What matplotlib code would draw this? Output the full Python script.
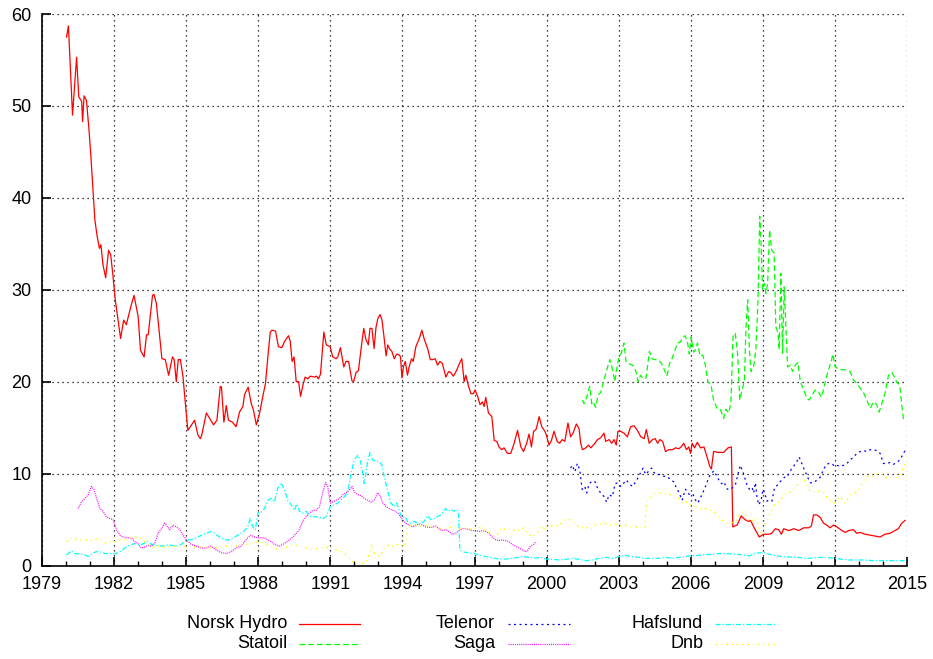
import matplotlib
matplotlib.use("Agg")
import matplotlib.pyplot as plt
from matplotlib.lines import Line2D

plt.rcParams['font.family'] = ['Liberation Sans', 'DejaVu Sans']

# ---------------- data ----------------
nh_year = [1980.02, 1980.10, 1980.27, 1980.44, 1980.53, 1980.65, 1980.69, 1980.75, 1980.85, 1980.95,
           1981.03, 1981.13, 1981.20, 1981.29, 1981.39, 1981.45, 1981.54, 1981.65, 1981.77, 1981.86,
           1981.95, 1982.05, 1982.27, 1982.40, 1982.51, 1982.68, 1982.83, 1983.00, 1983.10, 1983.25,
           1983.35, 1983.42, 1983.60, 1983.66, 1983.76, 1983.87, 1983.99, 1984.13, 1984.27, 1984.43,
           1984.50, 1984.59, 1984.67, 1984.76, 1984.87, 1984.94, 1985.07, 1985.22, 1985.35, 1985.49,
           1985.59, 1985.65, 1985.84, 1985.98, 1986.14, 1986.28, 1986.42, 1986.47, 1986.57, 1986.67,
           1986.76, 1986.92, 1987.08, 1987.22, 1987.36, 1987.43, 1987.58, 1987.71, 1987.80, 1987.92,
           1988.05, 1988.19, 1988.30, 1988.40, 1988.50, 1988.57, 1988.72, 1988.84, 1988.98, 1989.10,
           1989.26, 1989.33, 1989.41, 1989.49, 1989.58, 1989.68, 1989.76, 1989.85, 1989.95, 1990.06,
           1990.16, 1990.34, 1990.43, 1990.50, 1990.59, 1990.73, 1990.83, 1990.99, 1991.10, 1991.24,
           1991.31, 1991.42, 1991.56, 1991.65, 1991.76, 1991.90, 1991.97, 1992.07, 1992.17, 1992.28,
           1992.39, 1992.48, 1992.58, 1992.65, 1992.73, 1992.82, 1992.90, 1992.98, 1993.07, 1993.15,
           1993.25, 1993.32, 1993.39, 1993.48, 1993.56, 1993.66, 1993.76, 1993.87, 1993.92, 1993.98,
           1994.04, 1994.12, 1994.21, 1994.28, 1994.38, 1994.45, 1994.56, 1994.70, 1994.81, 1994.91,
           1995.05, 1995.16, 1995.26, 1995.36, 1995.46, 1995.56, 1995.66, 1995.81, 1995.92, 1996.01,
           1996.12, 1996.25, 1996.36, 1996.47, 1996.57, 1996.64, 1996.74, 1996.85, 1996.96, 1997.02,
           1997.13, 1997.23, 1997.33, 1997.40, 1997.47, 1997.58, 1997.72, 1997.82, 1997.93, 1998.02,
           1998.13, 1998.23, 1998.37, 1998.51, 1998.65, 1998.79, 1998.93, 1999.04, 1999.17, 1999.27,
           1999.37, 1999.46, 1999.56, 1999.63, 1999.69, 1999.80, 1999.93, 1999.99, 2000.10, 2000.20,
           2000.31, 2000.44, 2000.54, 2000.65, 2000.76, 2000.89, 2001.00, 2001.10, 2001.24, 2001.35,
           2001.42, 2001.49, 2001.63, 2001.74, 2001.84, 2001.98, 2002.12, 2002.25, 2002.39, 2002.46,
           2002.60, 2002.71, 2002.81, 2002.90, 2002.97, 2003.08, 2003.22, 2003.36, 2003.50, 2003.64,
           2003.78, 2003.92, 2004.06, 2004.15, 2004.27, 2004.41, 2004.52, 2004.62, 2004.72, 2004.83,
           2004.95, 2005.09, 2005.23, 2005.37, 2005.50, 2005.60, 2005.71, 2005.82, 2005.92, 2005.99,
           2006.06, 2006.16, 2006.27, 2006.41, 2006.55, 2006.68, 2006.79, 2006.86, 2006.95, 2007.16,
           2007.37, 2007.55, 2007.69, 2007.75, 2007.93, 2008.10, 2008.25, 2008.40, 2008.49, 2008.62,
           2008.85, 2009.03, 2009.24, 2009.37, 2009.52, 2009.66, 2009.77, 2009.87, 2010.08, 2010.29,
           2010.49, 2010.70, 2010.91, 2011.02, 2011.11, 2011.25, 2011.39, 2011.53, 2011.66, 2011.80,
           2011.94, 2012.08, 2012.29, 2012.43, 2012.57, 2012.77, 2012.91, 2013.05, 2013.26, 2013.47,
           2013.67, 2013.88, 2014.08, 2014.29, 2014.50, 2014.64, 2014.78, 2014.92]
nh_val = [57.5, 58.7, 49.0, 55.3, 51.0, 50.5, 48.3, 51.1, 50.6, 47.6,
          44.7, 40.5, 37.6, 35.9, 34.5, 34.9, 32.7, 31.3, 34.3, 33.8,
          31.6, 28.9, 24.7, 26.7, 26.2, 28.0, 29.4, 27.1, 23.4, 22.7,
          25.1, 25.1, 29.4, 29.5, 28.5, 25.6, 22.5, 22.4, 20.7, 22.7,
          22.4, 20.0, 22.4, 22.4, 20.5, 18.4, 14.7, 15.3, 15.8, 14.2,
          13.8, 14.2, 16.6, 16.0, 15.3, 15.8, 19.5, 19.4, 15.6, 17.4,
          15.8, 15.6, 15.1, 16.7, 17.3, 18.6, 19.4, 17.6, 16.9, 15.3,
          16.5, 18.4, 19.8, 22.7, 25.4, 25.6, 25.5, 23.8, 23.7, 24.4,
          25.0, 24.4, 22.2, 22.7, 20.0, 20.0, 18.4, 19.5, 20.5, 20.3,
          20.6, 20.5, 20.6, 20.3, 20.8, 25.4, 24.0, 23.8, 22.7, 22.5,
          22.7, 23.7, 21.6, 22.2, 22.2, 20.1, 20.0, 21.0, 21.2, 23.6,
          25.8, 24.6, 24.0, 25.8, 25.8, 23.6, 25.9, 26.9, 27.3, 26.7,
          24.5, 22.8, 24.0, 23.5, 23.3, 22.5, 23.0, 22.9, 22.7, 20.4,
          21.6, 22.2, 20.7, 21.6, 22.5, 22.2, 23.8, 24.7, 25.6, 24.6,
          23.6, 22.4, 22.4, 22.5, 21.8, 22.2, 22.0, 20.5, 21.1, 21.0,
          20.6, 21.2, 21.9, 22.5, 20.0, 20.7, 19.6, 18.7, 18.7, 19.1,
          18.4, 17.5, 17.8, 17.3, 18.3, 16.6, 16.2, 13.6, 13.5, 12.9,
          12.6, 12.8, 12.2, 12.2, 13.3, 14.7, 12.9, 12.4, 13.3, 14.3,
          12.9, 14.6, 14.8, 15.5, 16.2, 15.1, 14.6, 14.2, 13.1, 13.6,
          14.6, 13.5, 13.3, 13.7, 13.5, 15.5, 14.0, 14.4, 15.4, 14.9,
          13.3, 12.6, 12.8, 13.1, 12.8, 13.2, 13.7, 13.9, 14.4, 13.5,
          13.7, 13.3, 13.7, 13.1, 14.6, 14.6, 14.4, 14.0, 15.1, 15.2,
          14.7, 14.0, 13.8, 14.8, 13.3, 13.7, 13.8, 13.3, 13.7, 13.5,
          12.4, 12.6, 12.6, 12.8, 12.7, 12.9, 13.3, 12.6, 12.9, 12.2,
          13.3, 12.8, 13.4, 12.8, 12.9, 11.8, 10.8, 10.5, 12.4, 12.3,
          12.3, 12.8, 12.9, 4.2, 4.4, 5.4, 5.0, 4.8, 4.9, 4.2,
          3.1, 3.4, 3.4, 3.5, 4.0, 3.9, 3.4, 4.0, 3.8, 4.0,
          3.8, 4.1, 4.1, 4.3, 5.5, 5.5, 5.2, 4.6, 4.4, 4.1,
          4.4, 4.2, 3.8, 3.6, 3.8, 3.9, 3.5, 3.6, 3.4, 3.3,
          3.2, 3.1, 3.4, 3.5, 3.8, 4.0, 4.6, 4.9]

st_year = [2001.49, 2001.56, 2001.67, 2001.79, 2001.88, 2001.94, 2002.04, 2002.15, 2002.25, 2002.39,
           2002.53, 2002.63, 2002.73, 2002.84, 2002.90, 2003.00, 2003.12, 2003.22, 2003.31, 2003.49,
           2003.63, 2003.73, 2003.81, 2003.91, 2004.02, 2004.14, 2004.28, 2004.39, 2004.50, 2004.64,
           2004.78, 2004.90, 2005.01, 2005.12, 2005.22, 2005.33, 2005.45, 2005.56, 2005.66, 2005.77,
           2005.87, 2005.94, 2006.02, 2006.12, 2006.18, 2006.28, 2006.39, 2006.50, 2006.60, 2006.71,
           2006.84, 2006.95, 2007.09, 2007.23, 2007.37, 2007.46, 2007.58, 2007.67, 2007.76, 2007.85,
           2007.95, 2008.04, 2008.13, 2008.23, 2008.30, 2008.37, 2008.44, 2008.51, 2008.62, 2008.71,
           2008.80, 2008.87, 2008.92, 2008.99, 2009.06, 2009.13, 2009.20, 2009.28, 2009.37, 2009.47,
           2009.54, 2009.63, 2009.68, 2009.75, 2009.82, 2009.89, 2009.96, 2010.03, 2010.14, 2010.24,
           2010.35, 2010.46, 2010.56, 2010.70, 2010.83, 2010.93, 2011.04, 2011.18, 2011.32, 2011.43,
           2011.52, 2011.62, 2011.73, 2011.84, 2011.91, 2012.01, 2012.15, 2012.29, 2012.43, 2012.63,
           2012.77, 2012.91, 2013.05, 2013.19, 2013.33, 2013.47, 2013.60, 2013.74, 2013.84, 2013.95,
           2014.09, 2014.23, 2014.37, 2014.48, 2014.58, 2014.69, 2014.79, 2014.85, 2014.92]
st_val = [18.0, 17.6, 18.3, 19.5, 17.6, 17.8, 17.2, 18.6, 18.8, 20.2,
          21.5, 22.4, 21.5, 20.0, 21.1, 22.5, 23.2, 24.2, 22.1, 21.9,
          21.7, 21.0, 20.0, 20.7, 20.3, 20.4, 23.3, 22.5, 22.4, 22.4,
          22.0, 21.3, 20.6, 22.0, 22.5, 23.3, 24.2, 24.3, 24.8, 25.0,
          24.2, 23.0, 24.9, 23.2, 23.4, 24.2, 22.8, 22.9, 21.9, 20.0,
          19.7, 18.0, 17.1, 17.0, 16.0, 17.0, 16.6, 17.7, 24.9, 25.3,
          23.1, 18.0, 19.1, 20.0, 26.0, 28.9, 23.5, 21.1, 21.7, 23.5,
          28.9, 38.0, 35.5, 30.0, 30.7, 29.6, 30.7, 36.5, 34.3, 34.0,
          26.0, 25.3, 23.5, 31.8, 23.1, 30.3, 26.0, 21.6, 21.8, 21.1,
          21.8, 22.1, 20.0, 19.1, 18.2, 18.0, 18.5, 19.1, 18.9, 18.3,
          19.1, 20.2, 21.3, 22.1, 23.0, 21.6, 21.4, 21.3, 21.3, 21.1,
          20.2, 19.8, 19.3, 18.8, 18.0, 17.1, 17.8, 17.5, 16.7, 17.6,
          18.8, 20.7, 21.0, 20.5, 19.9, 19.7, 17.3, 16.0, 15.8]

tel_year = [2001.00, 2001.07, 2001.18, 2001.28, 2001.38, 2001.44, 2001.49, 2001.60, 2001.67, 2001.77,
            2001.91, 2002.02, 2002.12, 2002.25, 2002.39, 2002.50, 2002.60, 2002.74, 2002.85, 2002.97,
            2003.08, 2003.19, 2003.32, 2003.43, 2003.57, 2003.71, 2003.82, 2003.91, 2004.02, 2004.12,
            2004.26, 2004.37, 2004.47, 2004.60, 2004.74, 2004.88, 2005.02, 2005.16, 2005.30, 2005.39,
            2005.50, 2005.64, 2005.78, 2005.88, 2005.99, 2006.10, 2006.20, 2006.29, 2006.41, 2006.55,
            2006.66, 2006.75, 2006.86, 2006.96, 2007.07, 2007.17, 2007.28, 2007.38, 2007.52, 2007.66,
            2007.75, 2007.86, 2007.97, 2008.06, 2008.16, 2008.24, 2008.34, 2008.44, 2008.55, 2008.62,
            2008.69, 2008.76, 2008.83, 2008.93, 2009.01, 2009.08, 2009.17, 2009.27, 2009.38, 2009.49,
            2009.59, 2009.68, 2009.79, 2009.90, 2010.00, 2010.14, 2010.28, 2010.41, 2010.51, 2010.62,
            2010.73, 2010.83, 2010.97, 2011.11, 2011.25, 2011.39, 2011.50, 2011.62, 2011.73, 2011.87,
            2011.98, 2012.08, 2012.22, 2012.36, 2012.50, 2012.64, 2012.78, 2012.91, 2013.05, 2013.19,
            2013.33, 2013.47, 2013.60, 2013.74, 2013.88, 2014.02, 2014.16, 2014.29, 2014.43, 2014.57,
            2014.71, 2014.85, 2014.92]
tel_val = [10.6, 10.9, 10.2, 11.1, 10.4, 9.1, 8.2, 8.5, 7.9, 8.9,
           9.2, 9.1, 8.4, 7.9, 7.5, 6.9, 7.7, 7.5, 8.9, 9.0,
           8.6, 8.9, 9.3, 8.9, 8.6, 9.1, 9.6, 10.1, 10.6, 9.9,
           10.3, 10.6, 10.1, 9.9, 9.9, 9.7, 9.7, 9.3, 9.1, 8.5,
           8.0, 7.1, 8.3, 7.9, 7.6, 7.7, 7.1, 6.8, 7.4, 8.2,
           8.9, 9.6, 10.0, 10.3, 9.8, 9.3, 8.9, 9.1, 8.3, 8.3,
           8.5, 8.8, 10.0, 10.9, 10.3, 9.6, 8.8, 8.3, 8.5, 7.9,
           9.0, 7.4, 6.6, 7.1, 8.3, 7.9, 7.0, 7.1, 7.0, 8.5,
           8.7, 9.0, 9.3, 9.6, 9.6, 10.3, 10.8, 11.3, 11.8, 11.1,
           10.4, 9.8, 9.0, 9.0, 9.3, 9.6, 10.3, 10.9, 11.1, 11.1,
           10.8, 10.9, 10.8, 10.9, 11.1, 11.5, 11.8, 12.2, 12.4, 12.5,
           12.4, 12.6, 12.6, 12.5, 12.2, 11.1, 11.1, 11.2, 11.0, 11.2,
           11.5, 12.2, 12.5]

saga_year = [1980.50, 1980.64, 1980.78, 1980.92, 1981.06, 1981.16, 1981.27, 1981.41, 1981.54, 1981.68,
             1981.82, 1981.96, 1982.10, 1982.24, 1982.37, 1982.54, 1982.72, 1982.86, 1983.00, 1983.13,
             1983.27, 1983.41, 1983.55, 1983.69, 1983.83, 1983.97, 1984.10, 1984.20, 1984.31, 1984.45,
             1984.59, 1984.73, 1984.87, 1985.01, 1985.21, 1985.42, 1985.63, 1985.84, 1986.04, 1986.25,
             1986.46, 1986.67, 1986.87, 1987.08, 1987.29, 1987.43, 1987.56, 1987.70, 1987.84, 1988.05,
             1988.26, 1988.47, 1988.67, 1988.88, 1989.09, 1989.30, 1989.44, 1989.58, 1989.71, 1989.85,
             1989.99, 1990.13, 1990.27, 1990.41, 1990.55, 1990.68, 1990.80, 1990.89, 1991.00, 1991.10,
             1991.24, 1991.38, 1991.52, 1991.65, 1991.79, 1991.90, 1992.00, 1992.14, 1992.28, 1992.41,
             1992.55, 1992.69, 1992.83, 1992.97, 1993.07, 1993.18, 1993.32, 1993.45, 1993.59, 1993.73,
             1993.87, 1994.00, 1994.14, 1994.28, 1994.42, 1994.56, 1994.70, 1994.83, 1994.97, 1995.11,
             1995.25, 1995.38, 1995.52, 1995.66, 1995.80, 1995.94, 1996.08, 1996.22, 1996.36, 1996.50,
             1996.63, 1996.77, 1996.91, 1997.05, 1997.19, 1997.32, 1997.46, 1997.60, 1997.74, 1997.88,
             1998.02, 1998.15, 1998.29, 1998.43, 1998.57, 1998.71, 1998.85, 1998.98, 1999.12, 1999.23,
             1999.33, 1999.46, 1999.56]
saga_val = [6.2, 6.9, 7.3, 7.7, 8.6, 8.3, 7.3, 6.2, 5.9, 5.3,
            5.1, 5.0, 3.9, 3.3, 3.1, 3.0, 3.0, 2.6, 2.4, 1.9,
            2.0, 2.2, 2.1, 2.4, 3.5, 4.0, 4.6, 4.3, 3.9, 4.4,
            4.2, 3.9, 3.3, 2.8, 2.3, 2.1, 1.9, 1.9, 2.1, 1.7,
            1.4, 1.3, 1.5, 1.9, 2.1, 2.6, 3.0, 3.3, 3.1, 3.0,
            3.0, 2.7, 2.3, 2.1, 2.4, 2.8, 3.1, 3.5, 3.9, 4.8,
            5.3, 5.7, 6.0, 6.0, 6.4, 7.9, 9.0, 8.6, 6.8, 6.9,
            7.1, 7.3, 7.7, 7.9, 8.2, 8.6, 8.0, 7.7, 7.6, 7.3,
            7.1, 6.9, 7.1, 7.9, 7.6, 6.8, 6.4, 6.2, 6.0, 5.9,
            5.5, 5.0, 4.6, 4.4, 4.2, 4.4, 4.5, 4.4, 4.2, 4.15,
            4.15, 4.3, 4.0, 3.8, 3.9, 3.7, 3.4, 3.5, 3.8, 4.0,
            4.0, 3.9, 3.8, 3.8, 3.7, 3.8, 3.7, 3.5, 3.1, 2.8,
            2.7, 2.8, 2.7, 2.6, 2.3, 2.1, 1.9, 1.7, 1.5, 1.7,
            2.1, 2.3, 2.6]

haf_year = [1980.02, 1980.23, 1980.37, 1980.58, 1980.78, 1980.92, 1981.06, 1981.24, 1981.41, 1981.62,
            1981.82, 1982.03, 1982.24, 1982.44, 1982.65, 1982.86, 1983.07, 1983.23, 1983.41, 1983.55,
            1983.76, 1983.97, 1984.17, 1984.38, 1984.59, 1984.80, 1985.01, 1985.21, 1985.42, 1985.63,
            1985.84, 1986.04, 1986.18, 1986.39, 1986.60, 1986.80, 1987.01, 1987.22, 1987.43, 1987.56,
            1987.66, 1987.77, 1987.88, 1987.99, 1988.12, 1988.26, 1988.40, 1988.54, 1988.67, 1988.81,
            1988.95, 1989.09, 1989.23, 1989.37, 1989.51, 1989.60, 1989.71, 1989.85, 1989.99, 1990.13,
            1990.27, 1990.47, 1990.68, 1990.82, 1991.00, 1991.17, 1991.31, 1991.52, 1991.72, 1991.86,
            1992.00, 1992.14, 1992.24, 1992.35, 1992.41, 1992.48, 1992.55, 1992.65, 1992.76, 1992.90,
            1993.04, 1993.15, 1993.24, 1993.38, 1993.52, 1993.66, 1993.76, 1993.87, 1993.98, 1994.12,
            1994.21, 1994.35, 1994.49, 1994.63, 1994.76, 1994.90, 1995.04, 1995.18, 1995.32, 1995.45,
            1995.59, 1995.73, 1995.80, 1995.91, 1996.01, 1996.15, 1996.25, 1996.33, 1996.39, 1996.50,
            1996.70, 1996.98, 1997.19, 1997.40, 1997.60, 1997.81, 1998.02, 1998.29, 1998.57, 1998.85,
            1999.05, 1999.26, 1999.53, 1999.74, 1999.97, 2000.24, 2000.52, 2000.80, 2001.07, 2001.35,
            2001.63, 2001.91, 2002.18, 2002.46, 2002.74, 2003.01, 2003.29, 2003.57, 2003.84, 2004.12,
            2004.40, 2004.67, 2004.95, 2005.23, 2005.50, 2005.78, 2006.06, 2006.34, 2006.61, 2006.89,
            2007.16, 2007.44, 2007.72, 2008.03, 2008.44, 2008.72, 2009.00, 2009.40, 2009.80, 2010.36,
            2010.91, 2011.47, 2012.01, 2012.57, 2013.12, 2013.67, 2014.23, 2014.92]
haf_val = [1.14, 1.6, 1.3, 1.25, 1.14, 1.0, 1.2, 1.5, 1.5, 1.3,
           1.3, 1.25, 1.5, 1.9, 2.2, 2.4, 2.2, 2.4, 2.6, 2.3,
           2.2, 2.1, 2.2, 2.2, 2.1, 2.3, 2.8, 2.8, 3.0, 3.3,
           3.5, 3.7, 3.5, 3.1, 2.8, 2.8, 3.1, 3.4, 3.8, 4.2,
           5.1, 4.2, 3.9, 5.75, 5.8, 6.2, 7.1, 7.3, 6.9, 8.4,
           9.0, 8.2, 7.1, 6.6, 6.0, 6.7, 5.9, 5.7, 5.9, 5.4,
           5.3, 5.3, 5.1, 5.3, 6.4, 6.6, 6.8, 7.3, 7.9, 10.0,
           11.5, 12.0, 11.5, 10.0, 8.9, 10.0, 11.3, 12.3, 11.5, 11.3,
           11.3, 10.9, 9.7, 8.2, 6.8, 6.4, 6.8, 5.9, 5.2, 5.3,
           4.8, 4.6, 4.8, 4.6, 4.5, 4.8, 5.4, 5.0, 5.1, 5.3,
           5.5, 5.9, 6.2, 5.9, 6.1, 5.9, 6.1, 5.75, 1.7, 1.5,
           1.4, 1.3, 1.14, 1.0, 0.9, 0.8, 0.7, 0.7, 0.8, 0.9,
           0.96, 0.9, 0.8, 0.9, 0.7, 0.67, 0.6, 0.67, 0.78, 0.67,
           0.53, 0.6, 0.78, 0.89, 0.78, 0.96, 1.1, 0.96, 0.89, 0.78,
           0.78, 0.78, 0.89, 0.78, 0.89, 0.96, 1.1, 1.1, 1.2, 1.2,
           1.3, 1.3, 1.25, 1.2, 1.05, 1.35, 1.4, 1.14, 0.96, 0.9,
           0.78, 0.9, 0.78, 0.6, 0.6, 0.53, 0.53, 0.53]

dnb_year = [1980.02, 1980.09, 1980.26, 1980.44, 1980.71, 1980.99, 1981.20, 1981.41, 1981.54, 1981.68,
            1981.82, 1982.03, 1982.24, 1982.44, 1982.65, 1982.86, 1983.07, 1983.20, 1983.41, 1983.62,
            1983.83, 1984.04, 1984.24, 1984.45, 1984.73, 1985.01, 1985.28, 1985.56, 1985.84, 1986.11,
            1986.39, 1986.67, 1986.94, 1987.22, 1987.50, 1987.77, 1988.05, 1988.33, 1988.60, 1988.88,
            1989.16, 1989.44, 1989.71, 1989.99, 1990.27, 1990.55, 1990.76, 1991.00, 1991.17, 1991.38,
            1991.59, 1991.79, 1991.93, 1992.07, 1992.28, 1992.48, 1992.62, 1992.73, 1992.83, 1992.97,
            1993.10, 1993.24, 1993.38, 1993.52, 1993.73, 1993.93, 1994.07, 1994.17, 1994.21, 1994.35,
            1994.56, 1994.76, 1994.97, 1995.18, 1995.32, 1995.52, 1995.73, 1995.94, 1996.15, 1996.36,
            1996.57, 1996.77, 1996.98, 1997.16, 1997.32, 1997.53, 1997.74, 1997.94, 1998.12, 1998.29,
            1998.50, 1998.70, 1998.91, 1999.05, 1999.19, 1999.39, 1999.60, 1999.78, 1999.94, 2000.11,
            2000.31, 2000.52, 2000.73, 2000.91, 2001.07, 2001.24, 2001.42, 2001.63, 2001.84, 2002.04,
            2002.25, 2002.46, 2002.67, 2002.87, 2003.08, 2003.29, 2003.50, 2003.71, 2003.91, 2004.09,
            2004.15, 2004.26, 2004.40, 2004.54, 2004.74, 2004.95, 2005.16, 2005.37, 2005.50, 2005.64,
            2005.78, 2005.99, 2006.20, 2006.41, 2006.61, 2006.82, 2007.03, 2007.24, 2007.45, 2007.66,
            2007.86, 2008.03, 2008.20, 2008.37, 2008.51, 2008.72, 2008.88, 2008.97, 2009.06, 2009.20,
            2009.34, 2009.48, 2009.62, 2009.76, 2009.90, 2010.03, 2010.17, 2010.31, 2010.45, 2010.58,
            2010.72, 2010.86, 2011.00, 2011.14, 2011.28, 2011.41, 2011.55, 2011.69, 2011.83, 2011.97,
            2012.10, 2012.24, 2012.38, 2012.52, 2012.66, 2012.80, 2012.93, 2013.07, 2013.21, 2013.35,
            2013.49, 2013.62, 2013.76, 2013.90, 2014.04, 2014.18, 2014.32, 2014.46, 2014.59, 2014.73,
            2014.83, 2014.92]
dnb_val = [2.6, 2.7, 3.1, 2.8, 2.8, 2.7, 2.9, 2.9, 2.6, 2.4,
           2.6, 2.6, 2.8, 2.8, 3.0, 3.1, 3.0, 2.8, 2.3, 2.0,
           2.1, 2.0, 2.1, 2.1, 2.0, 2.1, 2.0, 2.0, 2.0, 1.9,
           2.0, 2.1, 2.1, 2.2, 2.3, 2.5, 2.6, 2.3, 2.0, 1.7,
           2.0, 2.3, 2.1, 1.9, 1.7, 1.9, 1.9, 2.1, 1.75, 1.6,
           1.3, 0.8, 0.4, 0.2, 0.2, 0.3, 1.3, 2.3, 1.3, 1.0,
           1.1, 1.9, 2.2, 2.0, 2.3, 2.2, 2.0, 2.8, 4.15, 4.4,
           4.4, 4.3, 4.4, 4.2, 4.4, 4.1, 3.9, 4.1, 4.3, 4.0,
           4.1, 4.0, 3.9, 4.2, 4.0, 3.7, 3.3, 3.3, 4.1, 3.9,
           4.1, 3.7, 3.9, 4.1, 3.5, 3.1, 3.5, 4.3, 3.9, 4.4,
           4.2, 4.4, 4.9, 5.1, 4.8, 4.4, 4.05, 4.2, 3.9, 4.4,
           4.5, 4.6, 4.4, 4.5, 4.3, 4.4, 4.2, 4.2, 4.1, 4.05,
           6.8, 7.3, 7.5, 7.9, 7.9, 7.8, 7.7, 7.7, 7.3, 6.8,
           7.0, 6.6, 6.4, 6.2, 6.2, 6.0, 5.7, 5.1, 4.6, 4.6,
           4.8, 5.5, 5.9, 5.0, 4.8, 5.2, 3.7, 3.5, 4.2, 4.95,
           5.9, 6.6, 6.8, 7.2, 7.7, 7.9, 8.0, 8.4, 8.8, 9.1,
           9.4, 8.6, 8.0, 8.0, 8.1, 8.0, 7.9, 7.3, 7.0, 6.8,
           7.2, 7.5, 6.8, 7.2, 7.7, 7.9, 8.0, 8.6, 9.3, 9.7,
           9.7, 9.7, 10.0, 10.0, 9.7, 9.5, 9.6, 9.5, 9.6, 9.9,
           10.6, 11.1]

labels = ["Norsk Hydro", "Statoil", "Telenor", "Saga", "Hafslund", "Dnb"]
x_ticks = list(range(1979, 2016, 3))
y_ticks = list(range(0, 61, 10))

# ---------------- styles ----------------
styles = [
    dict(color="#ff0000", linestyle="-"),
    dict(color="#00ff00", linestyle=(0, (4.5, 2.5))),
    dict(color="#0000ff", linestyle=(0, (1.6, 2.8))),
    dict(color="#ff00ff", linestyle=(0, (0.8, 0.9))),
    dict(color="#00ffff", linestyle=(0, (4.0, 1.6, 1.0, 1.6))),
    dict(color="#ffff00", linestyle=(0, (1.6, 3.0, 0.8, 3.0))),
]
series = [(nh_year, nh_val), (st_year, st_val), (tel_year, tel_val),
          (saga_year, saga_val), (haf_year, haf_val), (dnb_year, dnb_val)]

FS = 13
W, H = 933, 659
fig = plt.figure(figsize=(W / 100, H / 100), dpi=100)
ax = fig.add_axes([42 / W, 1 - 565.5 / H, (907 - 42) / W, (565.5 - 14) / H])

for (xs, ys), st in zip(series, styles):
    ax.plot(xs, ys, lw=0.9, **st)

ax.set_xlim(1979, 2015)
ax.set_ylim(0, 60)
ax.set_xticks(x_ticks)
ax.set_xticks(range(1979, 2016), minor=True)
ax.set_yticks(y_ticks)
ax.grid(True, which="major", color="black", linestyle=(0, (1, 3)), lw=0.9)
ax.set_axisbelow(True)
for s in ["top", "right"]:
    ax.spines[s].set_visible(False)
for s in ["left", "bottom"]:
    ax.spines[s].set_linewidth(1.2)
ax.tick_params(axis="both", which="major", direction="in", length=6.5, width=1.2,
               labelsize=FS)
ax.tick_params(axis="x", which="major", pad=7.5)
ax.tick_params(axis="y", which="major", pad=7.5)
ax.tick_params(axis="x", which="minor", direction="in", length=3.5, width=1.0)
ax.tick_params(axis="y", which="minor", left=False)

# legend in gnuplot style (label right-aligned, sample to its right)
rows_y = [1 - 624 / H, 1 - 644 / H]
cols = [(287, 299, 360), (495, 508, 570), (703, 715, 777)]
for i, (lab, st) in enumerate(zip(labels, styles)):
    c, r = divmod(i, 2)
    tx, l0, l1 = cols[c]
    y = rows_y[r]
    fig.text(tx / W, y, lab, ha="right", va="center", fontsize=FS)
    fig.add_artist(Line2D([l0 / W, l1 / W], [y, y], lw=0.9, transform=fig.transFigure, **st))

fig.savefig("out.png", dpi=100)
